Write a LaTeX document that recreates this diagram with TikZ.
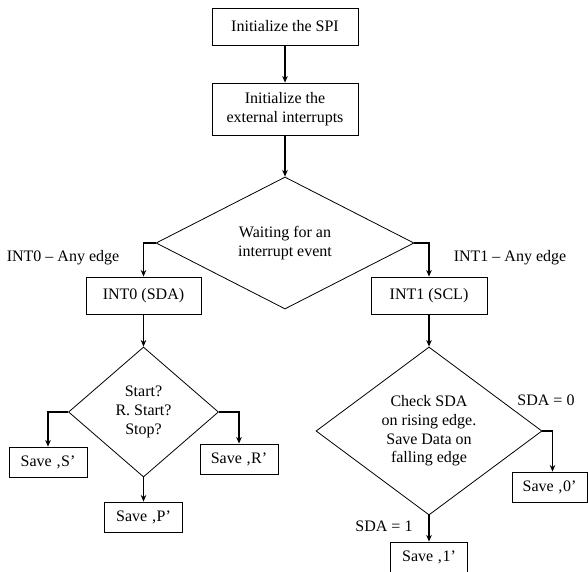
\documentclass[tikz,border=0pt]{standalone}
\usepackage{fontspec}
\setmainfont{Liberation Serif}
\usetikzlibrary{shapes.geometric,arrows.meta}
\begin{document}
\begin{tikzpicture}[x=0.75pt,y=-0.75pt,
  every node/.style={font=\fontsize{12}{14}\selectfont},
  box/.style={draw,line width=0.6pt,inner sep=0pt,align=center},
  decision/.style={draw,diamond,line width=0.6pt,inner sep=0pt,align=center,aspect=1},
  flow/.style={line width=0.9pt,-{Stealth[length=5pt,width=4.2pt]}},
  lbl/.style={inner sep=0pt}]
\useasboundingbox (0,0) rectangle (588,571);

% top initialisation
\node[box,minimum width=109.5pt,minimum height=27.75pt] (spi) at (285,26.5) {Initialize the SPI};
\node[box,minimum width=109.5pt,minimum height=39pt] (ext) at (285,109) {Initialize the\\external interrupts};

% waiting loop
\node[decision,minimum width=193.5pt,minimum height=99pt] (wait) at (285,243) {Waiting for an\\interrupt event};

% interrupt handlers
\node[box,minimum width=86.25pt,minimum height=27.75pt] (int0) at (143.5,295.5) {INT0 (SDA)};
\node[box,minimum width=87pt,minimum height=27.75pt] (int1) at (429,295.5) {INT1 (SCL)};

% SDA branch
\node[decision,minimum width=112.5pt,minimum height=97.5pt] (cond) at (143.5,412) {Start?\\R. Start?\\Stop?};
\node[box,minimum width=58.5pt,minimum height=22.5pt] (saveS) at (48,462) {Save ‚S’};
\node[box,minimum width=58.5pt,minimum height=22.5pt] (saveR) at (239,459) {Save ‚R’};
\node[box,minimum width=58.5pt,minimum height=22.5pt] (saveP) at (143.5,517) {Save ‚P’};

% SCL branch
\node[decision,minimum width=169.5pt,minimum height=126pt] (check) at (429,431) {Check SDA\\on rising edge.\\Save Data on\\falling edge};
\node[box,minimum width=56.25pt,minimum height=22.5pt] (save0) at (549.5,487) {Save ‚0’};
\node[box,minimum width=57.75pt,minimum height=22.5pt] (save1) at (429,557) {Save ‚1’};

% edge labels
\node[lbl] (l0) at (63,258) {INT0 – Any edge};
\node[lbl] (l1) at (510,258) {INT1 – Any edge};
\node[lbl] (lz) at (546,400) {SDA = 0};
\node[lbl] (lo) at (384,526) {SDA = 1};

% connectors
\draw[flow] (spi) -- (ext);
\draw[flow] (ext) -- (wait);
\draw[flow] (wait.west) -| (int0.north);
\draw[flow] (wait.east) -| (int1.north);
\draw[flow] (int0) -- (cond);
\draw[flow] (cond.west) -| (saveS.north);
\draw[flow] (cond.east) -| (saveR.north);
\draw[flow] (cond) -- (saveP);
\draw[flow] (int1) -- (check);
\draw[flow] (check.east) -| ([xshift=2.25pt]save0.north);
\draw[flow] (check) -- (save1);
\end{tikzpicture}
\end{document}
